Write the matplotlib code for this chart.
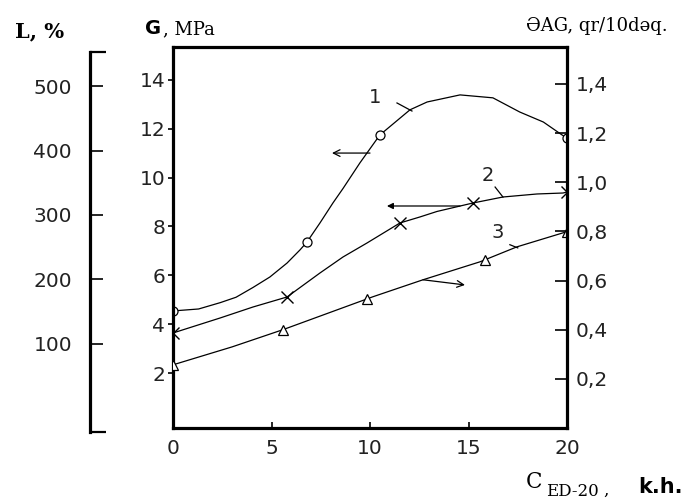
import matplotlib
matplotlib.use("Agg")
import matplotlib.pyplot as plt
from matplotlib.transforms import blended_transform_factory

# ---------------- data ----------------
x_ticks = [0, 5, 10, 15, 20]
g_ticks = [2, 4, 6, 8, 10, 12, 14]
l_ticks = [100, 200, 300, 400, 500]
t_ticks = [0.2, 0.4, 0.6, 0.8, 1.0, 1.2, 1.4]
t_labels = ["0,2", "0,4", "0,6", "0,8", "1,0", "1,2", "1,4"]

# curve 1: G, MPa
c1_x = [0, 1.3, 2.4, 3.2, 4.06, 4.92, 5.79, 6.45, 6.8, 7.46, 8.12, 8.63, 9.49,
        10.5, 12.03, 12.9, 14.57, 16.24, 17.6, 18.8, 19.75, 20]
c1_g = [4.54, 4.62, 4.88, 5.1, 5.5, 5.93, 6.5, 7.04, 7.36, 8.14, 8.96, 9.55, 10.6,
        11.74, 12.77, 13.09, 13.38, 13.26, 12.68, 12.27, 11.74, 11.62]
c1_mx = [0, 6.8, 10.5, 20]
c1_my = [4.54, 7.36, 11.74, 11.62]

# curve 2: L, %
c2_x = [0, 2.39, 4.06, 5.79, 7.46, 8.63, 9.85, 11.52, 12.54, 13.4, 15.23, 16.75, 18.48, 19.8, 20]
c2_l = [116.5, 139.8, 156.9, 172.5, 209.8, 234.7, 256.5, 287.6, 297.0, 305.5, 318.7, 328.0, 332.7, 334.2, 335.8]
c2_mx = [0, 5.79, 11.52, 15.23, 20]
c2_my = [116.5, 172.5, 287.6, 318.7, 335.8]

# curve 3: ƏAG, qr/10dəq.
c3_x = [0, 3.0, 5.58, 10.15, 12.69, 15.58, 17.46, 19.8, 20]
c3_t = [0.257, 0.330, 0.400, 0.534, 0.603, 0.676, 0.737, 0.794, 0.798]
c3_mx = [0, 5.58, 9.85, 15.84, 20]
c3_my = [0.257, 0.400, 0.525, 0.685, 0.798]

# ---------------- figure ----------------
W, H, DPI = 693, 499, 100
fig = plt.figure(figsize=(W / DPI, H / DPI), dpi=DPI)
fig.patch.set_facecolor("white")


def fx(px):
    return px / W


def fy(py):
    return 1 - py / H


L_AX, R_AX, T_AX, B_AX = 173, 567, 47, 428
ax = fig.add_axes([fx(L_AX), fy(B_AX), (R_AX - L_AX) / W, (B_AX - T_AX) / H])
axT = ax.twinx()
axL = ax.twinx()

SANS = ["DejaVu Sans"]
SERIF = ["DejaVu Serif"]
TICKFS = 14.5
LW_SP = 2.3

ax.set_xlim(0, 20)
ax.set_ylim(-0.25, 15.34)
axT.set_ylim(0, 1.55)
axL.set_ylim(-31.3, 561.3)

# spines
for s in ["left", "bottom", "top"]:
    ax.spines[s].set_linewidth(LW_SP)
ax.spines["right"].set_visible(False)
for s in ["left", "bottom", "top"]:
    axT.spines[s].set_visible(False)
axT.spines["right"].set_linewidth(LW_SP)
for s in ["right", "bottom", "top"]:
    axL.spines[s].set_visible(False)
axL.spines["left"].set_visible(True)
axL.spines["left"].set_position(("axes", (90 - L_AX) / (R_AX - L_AX)))
axL.spines["left"].set_linewidth(LW_SP)
axL.spines["left"].set_bounds(-37.5, 553.5)
axL.yaxis.set_ticks_position("left")
axL.yaxis.set_label_position("left")

# ticks
ax.set_xticks(x_ticks)
ax.set_xticklabels([str(v) for v in x_ticks])
ax.set_yticks(g_ticks)
ax.set_yticklabels([str(v) for v in g_ticks])
ax.tick_params(axis="x", direction="in", length=4.5, width=1.2, pad=8,
               labelsize=TICKFS, top=False)
ax.tick_params(axis="y", direction="out", length=3.5, width=1.2, pad=2,
               labelsize=TICKFS)
axT.set_yticks(t_ticks, labels=t_labels)
axT.tick_params(axis="y", direction="in", length=8.5, width=1.2, pad=6,
                labelsize=TICKFS)
axL.set_yticks(l_ticks)
axL.set_yticklabels([str(v) for v in l_ticks])
axL.tick_params(axis="y", direction="in", length=9, width=1.2, pad=13,
                labelsize=TICKFS)
for a in (ax, axT, axL):
    for lab in a.get_xticklabels() + a.get_yticklabels():
        lab.set_family(SANS)
        lab.set_color("#222222")

# bracket ends of the L axis
tr = blended_transform_factory(ax.transAxes, axL.transData)
x0 = (90 - L_AX) / (R_AX - L_AX)
x1 = (106 - L_AX) / (R_AX - L_AX)
for yv in (-37.5, 553.5):
    axL.plot([x0, x1], [yv, yv], color="black", lw=1.6, transform=tr,
             clip_on=False, solid_capstyle="butt")

LW = 0.9
# curves
ax.plot(c1_x, c1_g, color="black", lw=LW, solid_joinstyle="round")
ax.plot(c1_mx, c1_my, ls="none", marker="o", ms=6.5, mfc="white",
        mec="black", mew=0.9)
axL.plot(c2_x, c2_l, color="black", lw=LW, solid_joinstyle="round")
axL.plot(c2_mx, c2_my, ls="none", marker="x", ms=8.5, mec="black", mew=1.0)
axT.plot(c3_x, c3_t, color="black", lw=LW, solid_joinstyle="round")
axT.plot(c3_mx, c3_my, ls="none", marker="^", ms=7.5, mfc="white",
         mec="black", mew=0.9)

# arrows pointing to the axis of each curve
ax.annotate("", xy=(8.07, 11.0), xytext=(10.0, 11.0),
            arrowprops=dict(arrowstyle="->", lw=0.9, color="black",
                            shrinkA=0, shrinkB=0, mutation_scale=12))
axL.annotate("", xy=(10.86, 314), xytext=(14.57, 314),
             arrowprops=dict(arrowstyle="-|>", lw=0.9, color="black",
                             shrinkA=0, shrinkB=0, mutation_scale=9))
axT.annotate("", xy=(14.82, 0.582), xytext=(12.69, 0.603),
             arrowprops=dict(arrowstyle="->", lw=0.9, color="black",
                             shrinkA=0, shrinkB=0, mutation_scale=12))

# curve numbers with leader ticks
ax.text(10.25, 13.26, "1", fontsize=14, family=SANS, ha="center", va="center",
        color="#222222")
ax.plot([11.37, 12.13], [13.05, 12.72], color="black", lw=0.9)
ax.text(15.99, 10.1, "2", fontsize=14, family=SANS, ha="center", va="center",
        color="#222222")
ax.plot([16.35, 16.75], [9.61, 9.2], color="black", lw=0.9)
ax.text(16.5, 7.73, "3", fontsize=14, family=SANS, ha="center", va="center",
        color="#222222")
ax.plot([17.1, 17.5], [7.25, 7.12], color="black", lw=0.9)

# axis titles
fig.text(fx(15), fy(31), "L, %", fontsize=15, family=SERIF, weight="bold",
         ha="left", va="center")
fig.text(fx(145), fy(29), "G", fontsize=14, family=SANS, weight="bold",
         ha="left", va="center")
fig.text(fx(163), fy(29), ", MPa", fontsize=13, family=SERIF,
         ha="left", va="center")
fig.text(fx(668), fy(26), "ƏAG, qr/10dəq.", fontsize=13, family=SERIF,
         ha="right", va="center")
fig.text(fx(526), fy(482), "C", fontsize=15.5, family=SERIF,
         ha="left", va="center")
fig.text(fx(546), fy(491), "ED-20", fontsize=12, family=SERIF,
         ha="left", va="center")
fig.text(fx(603), fy(490), ",", fontsize=12, family=SERIF,
         ha="left", va="center")
fig.text(fx(660), fy(487), "k.h.", fontsize=15, family=SANS, weight="bold",
         ha="center", va="center")

fig.savefig("out.png", dpi=DPI, facecolor="white")
